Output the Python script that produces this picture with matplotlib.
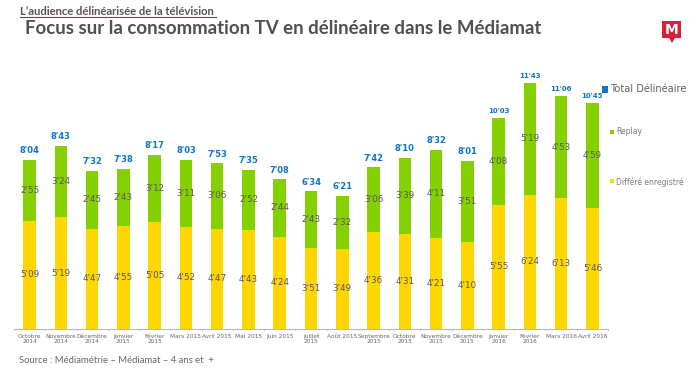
import matplotlib
matplotlib.use("Agg")
import matplotlib.pyplot as plt
from matplotlib.patches import Rectangle, Polygon

W, H = 695, 370
months = ["Octobre\n2014", "Novembre\n2014", "Décembre\n2014", "Janvier\n2015", "Février\n2015",
          "Mars 2015", "Avril 2015", "Mai 2015", "Juin 2015", "Juillet\n2015", "Août 2015",
          "Septembre\n2015", "Octobre\n2015", "Novembre\n2015", "Décembre\n2015", "Janvier\n2016",
          "Février\n2016", "Mars 2016", "Avril 2016"]
differe = ["5'09", "5'19", "4'47", "4'55", "5'05", "4'52", "4'47", "4'43", "4'24", "3'51", "3'49",
           "4'36", "4'31", "4'21", "4'10", "5'55", "6'24", "6'13", "5'46"]
replay = ["2'55", "3'24", "2'45", "2'43", "3'12", "3'11", "3'06", "2'52", "2'44", "2'43", "2'32",
          "3'06", "3'39", "4'11", "3'51", "4'08", "5'19", "4'53", "4'59"]
total = ["8'04", "8'43", "7'32", "7'38", "8'17", "8'03", "7'53", "7'35", "7'08", "6'34", "6'21",
         "7'42", "8'10", "8'32", "8'01", "10'03", "11'43", "11'06", "10'45"]

def secs(s):
    m, c = s.split("'")
    return int(m) * 60 + int(c)

YEL, GRN, BLU, GREY = "#FFD700", "#84D000", "#0F75C8", "#5A5560"
d = [secs(s) for s in differe]
r = [secs(s) for s in replay]
x = list(range(len(months)))

fig = plt.figure(figsize=(W / 100, H / 100), dpi=100, facecolor="white")
ax = fig.add_axes([14 / W, 1 - 329 / H, (608 - 14) / W, (329 - 70) / H])
ax.set_xlim(-0.5, len(months) - 0.5)
ax.set_ylim(0, 259 / 0.35)
ax.bar(x, d, width=0.4, color=YEL)
ax.bar(x, r, bottom=d, width=0.4, color=GRN)

for i in x:
    ax.text(i, d[i] / 2, differe[i], ha="center", va="center", fontsize=6.3, color=GREY, family="DejaVu Sans")
    ax.text(i, d[i] + r[i] / 2, replay[i], ha="center", va="center", fontsize=6.3, color=GREY, family="DejaVu Sans")
    big = d[i] + r[i] >= 600
    ax.text(i, d[i] + r[i] + (12 if big else 13), total[i], ha="center", va="bottom",
            fontsize=5.0 if big else 6.0, color=BLU, fontweight="bold", family="DejaVu Sans")

for s in ("top", "left", "right"):
    ax.spines[s].set_visible(False)
ax.spines["bottom"].set_color("#B8B8B8")
ax.spines["bottom"].set_linewidth(0.8)
ax.set_yticks([])
ax.set_xticks(x)
ax.set_xticklabels(months, fontsize=4.25, color="#6A6570", linespacing=1.15)
ax.tick_params(axis="x", length=0, pad=3.5)
for b in [v - 0.5 for v in x] + [len(x) - 0.5]:
    ax.plot([b, b], [0, -4], color="#B8B8B8", lw=0.6, clip_on=False)

def ftext(px, py, s, **kw):
    return fig.text(px / W, 1 - py / H, s, va="center", **kw)

def fsquare(px, py, size, color):
    fig.add_artist(Rectangle((px / W, 1 - (py + size / 2) / H), size / W, size / H,
                             transform=fig.transFigure, color=color, lw=0))

ftext(20, 11.5, "L’audience délinéarisée de la télévision", fontsize=8.1, color="#5F4F55",
      fontweight="bold", family="Lato")
fig.add_artist(plt.Line2D([20 / W, 216 / W], [1 - 16.5 / H] * 2, color="#5F4F55", lw=0.8))
ftext(25, 28, "Focus sur la consommation TV en délinéaire dans le Médiamat", fontsize=13.4,
      color="#505050", fontweight="bold", family="Lato")
ftext(19, 360.5, "Source : Médiamétrie – Médiamat – 4 ans et  +", fontsize=6.8, color="#6A6570", family="Lato")

fsquare(602, 89.5, 6, BLU)
ftext(610, 89.5, "Total Délinéaire", fontsize=7.1, color="#606068", family="DejaVu Sans")
fsquare(610, 132, 4, GRN)
ftext(616, 132, "Replay", fontsize=5.5, color="#7A7A7A", family="DejaVu Sans")
fsquare(610, 181.5, 4, YEL)
ftext(616, 182, "Différé enregistré", fontsize=5.5, color="#7A7A7A", family="DejaVu Sans")

pts = [(662, 21), (681, 21), (681, 38), (675, 38), (672, 43), (669, 38), (662, 38)]
fig.add_artist(Polygon([(a / W, 1 - b / H) for a, b in pts], closed=True, transform=fig.transFigure,
                       color="#D9203A", lw=0))
ftext(671.5, 29.5, "M", fontsize=10, color="white", fontweight="bold", ha="center", family="DejaVu Sans")

fig.savefig("out.png", dpi=100)
